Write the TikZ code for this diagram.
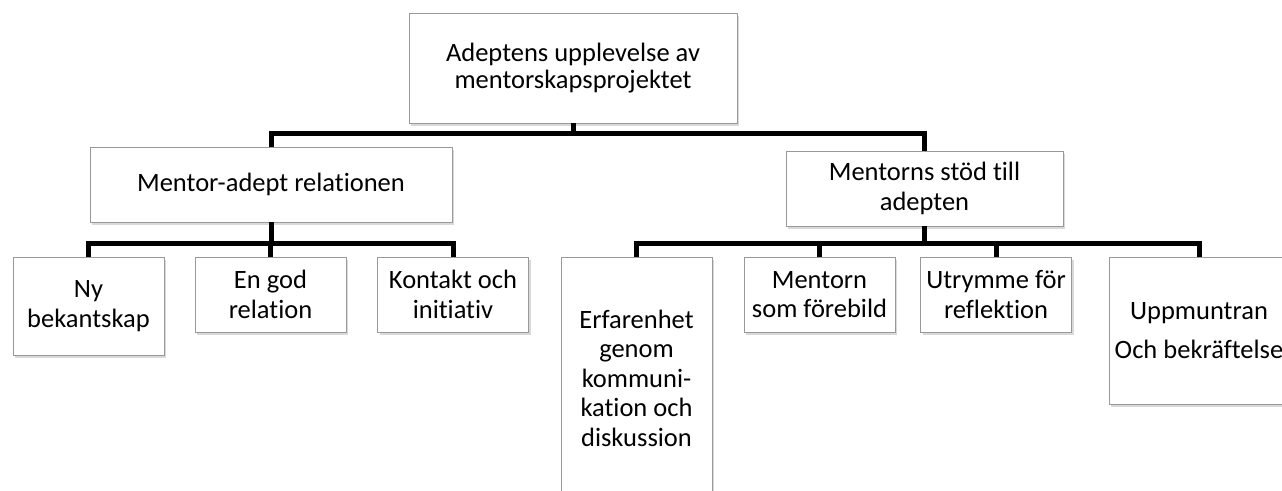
\documentclass[tikz,border=0pt]{standalone}
\usepackage{fontspec}
\setmainfont[Ligatures=NoCommon]{Carlito}
\usepackage{tikz}
\usetikzlibrary{shadows,positioning}
\tikzstyle{topic}=[draw=black!40,fill=white,line width=0.8pt,align=center,inner sep=2pt,
                font=\fontsize{26.5}{29.5}\selectfont,
                drop shadow={shadow xshift=2pt,shadow yshift=-3pt,opacity=0.3}]
\tikzstyle{sub}=[topic,minimum width=151pt,minimum height=75pt]
\tikzstyle{link}=[draw,line width=5pt,line join=miter]

\begin{document}
\begin{tikzpicture}[x=1pt,y=-1pt]
  \useasboundingbox (0,0) rectangle (1282,490);
  \node[topic,minimum width=328pt,minimum height=110pt] (top) at (573,68)
        {Adeptens upplevelse av\\[-2pt]mentorskapsprojektet};
  \node[topic,minimum width=362pt,minimum height=75pt] (rel) at (271,184.5)
        {Mentor-adept relationen};
  \node[topic,minimum width=277pt,minimum height=75pt] (stod) at (924.5,188.5)
        {Mentorns stöd till\\adepten};

  \node[sub,minimum height=98pt] (ny) at (88.5,306) {Ny\\bekantskap};
  \node[sub] (god) at (270.5,294.5) {En god\\relation};
  \node[sub] (kontakt) at (453,294.5) {Kontakt och\\initiativ};

  \node[sub,minimum height=242pt] (erf) at (636.5,378)
        {Erfarenhet\\genom\\kommuni-\\kation och\\diskussion};
  \node[sub] (mentorn) at (819.5,294.5) {Mentorn\\som förebild};
  \node[sub] (utr) at (996,294.5) {Utrymme för\\reflektion};
  \node[sub,minimum width=180pt,minimum height=147pt] (upp) at (1199,330.5)
        {Uppmuntran\\[10pt]Och bekräftelse};

  \draw[link] (top.south) -- ++(0,10) -| (rel.north);
  \draw[link] (top.south) -- ++(0,10) -| (stod.north);

  \draw[link] (rel.south) -- ++(0,21) -| (ny.north);
  \draw[link] (rel.south) -- ++(0,21) -| (god.north);
  \draw[link] (rel.south) -- ++(0,21) -| (kontakt.north);

  \draw[link] (stod.south) -- ++(0,17) -| (erf.north);
  \draw[link] (stod.south) -- ++(0,17) -| (mentorn.north);
  \draw[link] (stod.south) -- ++(0,17) -| (utr.north);
  \draw[link] (stod.south) -- ++(0,17) -| (upp.north);
\end{tikzpicture}
\end{document}
